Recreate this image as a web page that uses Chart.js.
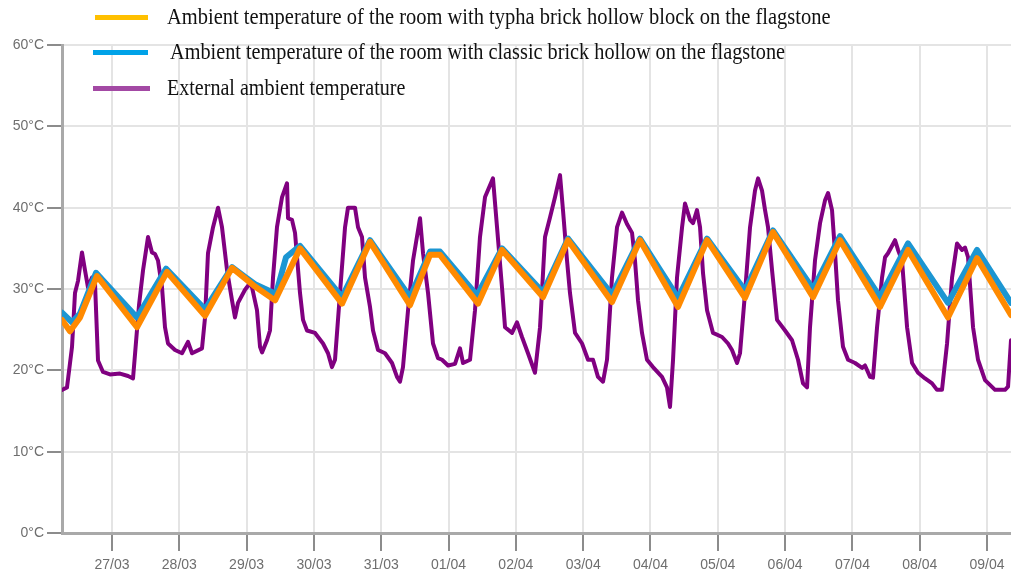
<!DOCTYPE html>
<html>
<head>
<meta charset="utf-8">
<script src="https://cdn.jsdelivr.net/npm/chart.js@4.4.1/dist/chart.umd.min.js"></script>
<style>
  html, body { margin: 0; padding: 0; background: #fff; }
  #wrap { position: relative; width: 1011px; height: 575px; overflow: hidden; }
  #legend { position: absolute; left: 0; top: 0; width: 1011px; height: 120px; font-family: "Liberation Serif", "Times New Roman", serif; color: #111; }
  .swatch { position: absolute; height: 5px; }
  .label { position: absolute; white-space: nowrap; font-size: 23px; line-height: 23px; transform-origin: 0 50%; }
</style>
</head>
<body>
<div id="wrap">
  <canvas id="chart" width="1011" height="575"></canvas>
  <div id="legend"></div>
</div>
<script>
  // Tick labels for the day axis (0 = 27/03 at midnight)
  const dateLabels = ['27/03','28/03','29/03','30/03','31/03','01/04','02/04','03/04','04/04','05/04','06/04','07/04','08/04','09/04'];
  const yTicks = [0, 10, 20, 30, 40, 50, 60];

  // Room with typha brick hollow block
  const typhaDays = [-0.743,-0.624,-0.475,-0.223,0.371,0.817,1.382,1.783,1.976,2.125,2.422,2.793,3.417,3.833,4.427,4.724,4.873,5.438,5.794,6.403,6.775,7.428,7.844,8.409,8.840,9.404,9.820,10.415,10.816,11.410,11.826,12.420,12.851,13.356];
  const typhaTemps = [26.2,24.8,26.5,31.6,25.3,32.1,26.7,32.6,31.3,30.3,28.6,35.0,28.2,35.8,28.0,34.2,34.2,28.2,34.8,29.0,36.0,28.4,36.0,27.8,36.0,28.9,37.0,29.0,36.0,27.8,34.8,26.5,33.8,26.8];

  // Room with classic brick hollow
  const classicDays = [-0.743,-0.594,-0.475,-0.238,0.371,0.802,1.382,1.783,1.976,2.125,2.437,2.585,2.793,3.417,3.833,4.427,4.724,4.873,5.423,5.794,6.403,6.775,7.428,7.844,8.409,8.840,9.404,9.820,10.415,10.816,11.410,11.826,12.420,12.851,13.356];
  const classicTemps = [27.1,25.9,27.0,32.0,26.5,32.5,27.5,32.7,31.5,30.6,29.4,33.9,35.3,29.0,36.0,29.0,34.6,34.6,29.2,35.0,29.6,36.2,29.3,36.2,28.9,36.2,29.8,37.2,30.0,36.5,29.0,35.6,28.3,34.8,28.3];

  // External ambient temperature
  const externalDays = [-0.743,-0.669,-0.594,-0.550,-0.505,-0.446,-0.401,-0.357,-0.297,-0.253,-0.208,-0.134,-0.030,0.119,0.238,0.312,0.342,0.401,0.461,0.535,0.594,0.639,0.683,0.743,0.787,0.832,0.936,1.040,1.129,1.189,1.337,1.382,1.426,1.501,1.575,1.634,1.709,1.783,1.827,1.872,1.976,2.050,2.080,2.154,2.199,2.229,2.303,2.347,2.392,2.451,2.526,2.600,2.615,2.674,2.719,2.793,2.838,2.897,3.016,3.135,3.209,3.268,3.313,3.387,3.462,3.506,3.610,3.655,3.714,3.759,3.833,3.878,3.952,4.056,4.160,4.234,4.279,4.323,4.398,4.472,4.576,4.621,4.695,4.769,4.843,4.903,4.992,5.096,5.170,5.215,5.319,5.393,5.467,5.542,5.660,5.720,5.794,5.839,5.943,6.017,6.091,6.180,6.284,6.359,6.433,6.507,6.582,6.656,6.700,6.760,6.804,6.879,6.983,7.072,7.146,7.220,7.295,7.354,7.428,7.503,7.577,7.651,7.726,7.770,7.815,7.874,7.948,8.037,8.171,8.245,8.290,8.335,8.394,8.469,8.513,8.588,8.632,8.691,8.736,8.781,8.840,8.929,9.063,9.152,9.211,9.286,9.330,9.404,9.479,9.553,9.598,9.657,9.702,9.746,9.806,9.880,9.999,10.103,10.192,10.266,10.326,10.370,10.444,10.519,10.593,10.638,10.697,10.742,10.786,10.860,10.935,11.039,11.143,11.187,11.262,11.306,11.366,11.440,11.485,11.529,11.633,11.678,11.737,11.812,11.886,11.975,12.079,12.183,12.257,12.331,12.406,12.480,12.554,12.629,12.673,12.718,12.792,12.866,12.970,13.119,13.267,13.312,13.356];
  const externalTemps = [17.6,17.9,22.9,29.5,31.0,34.5,32.3,30.2,31.4,30.8,21.2,19.8,19.5,19.6,19.3,19.0,22.0,28.0,32.3,36.4,34.5,34.3,33.5,30.2,25.3,23.3,22.5,22.1,23.5,22.1,22.7,26.5,34.4,37.6,40.0,37.6,32.3,28.6,26.5,28.3,29.9,30.7,30.2,27.4,22.9,22.2,23.7,24.9,31.4,37.6,41.3,43.0,38.7,38.5,36.9,29.5,26.2,24.9,24.6,23.3,22.1,20.4,21.3,29.5,37.6,40.0,40.0,37.6,36.4,31.4,27.8,24.9,22.5,22.1,20.9,19.2,18.6,20.4,27.4,33.5,38.7,34.4,29.5,23.3,21.5,21.3,20.6,20.8,22.7,20.9,21.3,27.4,36.4,41.3,43.6,37.6,30.2,25.3,24.6,25.9,24.1,22.1,19.7,25.3,36.4,38.8,41.3,44.0,39.7,33.5,29.5,24.6,23.3,21.3,21.3,19.2,18.6,21.3,31.4,37.6,39.4,38.0,36.9,33.5,28.6,24.6,21.3,20.4,19.2,17.9,15.5,21.3,31.4,37.6,40.5,38.5,38.1,39.7,37.6,31.9,27.4,24.6,24.1,23.3,22.5,20.9,22.1,29.5,37.6,42.1,43.6,42.1,39.7,37.6,32.3,26.2,24.9,23.7,21.3,18.4,17.9,25.3,33.5,38.1,40.9,41.8,39.7,34.4,28.6,22.9,21.3,20.9,20.3,20.6,19.2,19.1,25.3,31.4,33.9,34.4,36.0,34.8,33.5,25.3,20.9,19.7,19.0,18.4,17.6,17.6,23.3,31.4,35.6,34.8,35.1,33.9,25.3,21.3,18.8,17.6,17.6,18.0,23.7];

  const seriesLabels = [
    'Ambient temperature of the room with typha brick hollow block on the flagstone',
    'Ambient temperature of the room with classic brick hollow on the flagstone',
    'External ambient temperature'
  ];

  const toPoints = (xs, ys) => xs.map((x, i) => ({ x: x, y: ys[i] }));

  // Legend drawn as HTML on top of the chart (text squeezed to the reference widths)
  const legendStyle = [
    { swatch: '#ffc000', x: 95, w: 53, y: 17, tx: 167, tw: 664 },
    { swatch: '#00a2e8', x: 93, w: 55, y: 52, tx: 170, tw: 615 },
    { swatch: '#a349a4', x: 93, w: 57, y: 88, tx: 167, tw: 238 }
  ];
  const legend = document.getElementById('legend');
  seriesLabels.forEach((text, i) => {
    const s = legendStyle[i];
    const sw = document.createElement('div');
    sw.className = 'swatch';
    sw.style.cssText = `left:${s.x}px;top:${s.y - 2}px;width:${s.w}px;background:${s.swatch}`;
    const lb = document.createElement('div');
    lb.className = 'label';
    lb.textContent = text;
    lb.style.left = s.tx + 'px';
    lb.style.top = (s.y - 12) + 'px';
    legend.appendChild(sw);
    legend.appendChild(lb);
    lb.style.transform = `scaleX(${(s.tw / lb.offsetWidth).toFixed(3)})`;
  });

  const tickFont = { family: "'Liberation Sans', Arial, sans-serif", size: 14 };

  new Chart(document.getElementById('chart'), {
    type: 'line',
    data: {
      datasets: [
        { label: seriesLabels[0], data: toPoints(typhaDays, typhaTemps), borderColor: '#ff8a00', borderWidth: 6 },
        { label: seriesLabels[1], data: toPoints(classicDays, classicTemps), borderColor: '#1c96d2', borderWidth: 6 },
        { label: seriesLabels[2], data: toPoints(externalDays, externalTemps), borderColor: '#800080', borderWidth: 4 }
      ]
    },
    options: {
      responsive: false,
      animation: false,
      layout: { padding: { top: 45, left: 0, right: 0, bottom: 0 } },
      elements: { point: { radius: 0 }, line: { tension: 0, borderJoinStyle: 'round', borderCapStyle: 'round' } },
      plugins: { legend: { display: false }, tooltip: { enabled: false } },
      scales: {
        x: {
          type: 'linear',
          min: -0.743,
          max: 13.356,
          afterFit: s => { s.height = 42; },
          border: { color: '#a9a9a9', width: 3 },
          grid: { color: '#e4e4e4', lineWidth: 2, tickLength: 18, tickColor: '#8c8c8c', tickWidth: 2 },
          ticks: {
            stepSize: 1,
            includeBounds: false,
            autoSkip: false,
            maxRotation: 0,
            padding: 6,
            color: '#6e6e6e',
            font: tickFont,
            callback: v => dateLabels[v] !== undefined ? dateLabels[v] : ''
          }
        },
        y: {
          min: 0,
          max: 60,
          afterFit: s => { s.width = 62; },
          border: { color: '#a9a9a9', width: 3 },
          grid: { color: '#e4e4e4', lineWidth: 2, tickLength: 15, tickColor: '#8c8c8c', tickWidth: 2 },
          ticks: {
            stepSize: 10,
            padding: 3,
            color: '#6e6e6e',
            font: tickFont,
            callback: v => yTicks.includes(v) ? v + '°C' : ''
          }
        }
      }
    }
  });
</script>
</body>
</html>
